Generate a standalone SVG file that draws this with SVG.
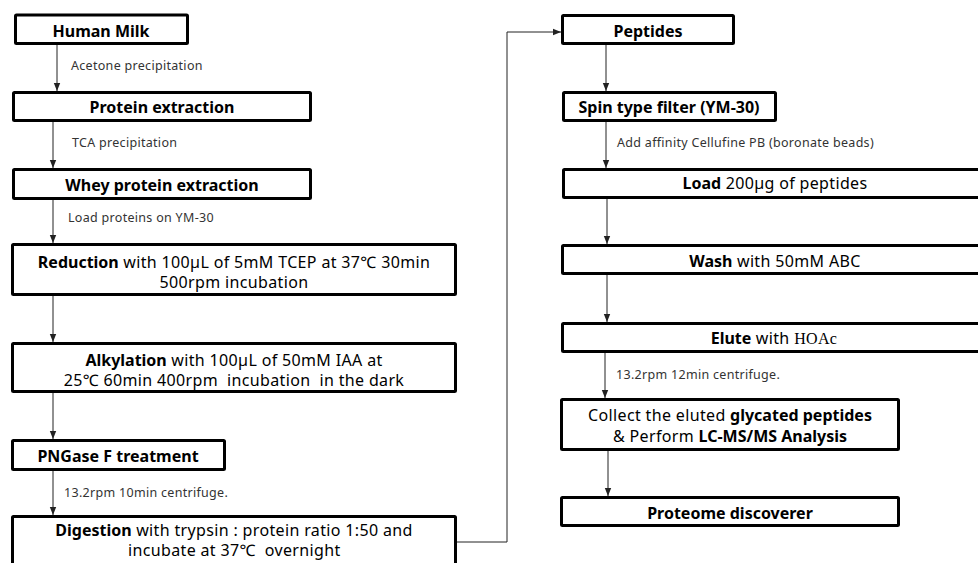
<svg xmlns="http://www.w3.org/2000/svg" width="978" height="563" viewBox="0 0 978 563">
<style>
.box{fill:#fff;stroke:#000;stroke-width:3}
.t{font-family:"Noto Sans","Noto Sans CJK KR",sans-serif;font-size:16px;fill:#000;text-anchor:middle;letter-spacing:0.35px}
.tl{font-family:"Noto Sans","Noto Sans CJK KR",sans-serif;font-size:16px;fill:#000;letter-spacing:0.35px}
.b{font-weight:700;letter-spacing:0}
.lbl{font-family:"Noto Sans",sans-serif;font-size:12.5px;fill:#333;letter-spacing:0.3px}
.c{fill:none;stroke:#222;stroke-width:1}
.serif{font-family:"Liberation Serif",serif}
</style>
<defs>
<marker id="ah" markerUnits="userSpaceOnUse" markerWidth="8" markerHeight="8" viewBox="0 0 8 8" refX="8" refY="4" orient="auto">
<path d="M0,0.8 L8,4 L0,7.2 Z" fill="#222"/>
</marker>
</defs>
<g id="connectors">
<line class="c" x1="57" y1="45" x2="57" y2="91" marker-end="url(#ah)"/>
<line class="c" x1="53" y1="122" x2="53" y2="168" marker-end="url(#ah)"/>
<line class="c" x1="53" y1="200" x2="53" y2="243" marker-end="url(#ah)"/>
<line class="c" x1="53" y1="296" x2="53" y2="342" marker-end="url(#ah)"/>
<line class="c" x1="53" y1="393" x2="53" y2="439" marker-end="url(#ah)"/>
<line class="c" x1="53" y1="471" x2="53" y2="515" marker-end="url(#ah)"/>
<polyline class="c" points="457,542 507,542 507,32 561,32" marker-end="url(#ah)"/>
<line class="c" x1="606" y1="45" x2="606" y2="91" marker-end="url(#ah)"/>
<line class="c" x1="606" y1="122" x2="606" y2="168" marker-end="url(#ah)"/>
<line class="c" x1="607" y1="199" x2="607" y2="244" marker-end="url(#ah)"/>
<line class="c" x1="607" y1="275" x2="607" y2="322" marker-end="url(#ah)"/>
<line class="c" x1="605" y1="353" x2="605" y2="398" marker-end="url(#ah)"/>
<line class="c" x1="608" y1="451" x2="608" y2="496" marker-end="url(#ah)"/>
<text class="lbl" x="71" y="70">Acetone precipitation</text>
<text class="lbl" x="72" y="147">TCA precipitation</text>
<text class="lbl" x="68" y="222">Load proteins on YM-30</text>
<text class="lbl" x="64" y="497">13.2rpm 10min centrifuge.</text>
<text class="lbl" x="617" y="147">Add affinity Cellufine PB (boronate beads)</text>
<text class="lbl" x="616" y="379">13.2rpm 12min centrifuge.</text>
</g>
<g id="human-milk">
<rect class="box" x="15.5" y="15" width="172" height="28.5" rx="1"/>
<text class="t b" x="101" y="37">Human Milk</text>
</g>
<g id="protein-extraction">
<rect class="box" x="13.5" y="92.5" width="297" height="28" rx="1"/>
<text class="t b" x="162" y="113">Protein extraction</text>
</g>
<g id="whey">
<rect class="box" x="13.5" y="169.5" width="297" height="29" rx="1"/>
<text class="t b" x="162" y="191">Whey protein extraction</text>
</g>
<g id="reduction">
<rect class="box" x="12.5" y="244.5" width="443" height="50" rx="1"/>
<text class="t" x="234" y="268"><tspan class="b">Reduction</tspan> with 100µL of 5mM TCEP at 37℃ 30min</text>
<text class="t" x="234" y="288">500rpm incubation</text>
</g>
<g id="alkylation">
<rect class="box" x="12.5" y="343.5" width="443" height="48" rx="1"/>
<text class="t" x="234" y="366"><tspan class="b">Alkylation</tspan> with 100µL of 50mM IAA at</text>
<text class="t" x="234" y="386" xml:space="preserve">25℃ 60min 400rpm  incubation  in the dark</text>
</g>
<g id="pngase">
<rect class="box" x="12.5" y="440.5" width="212" height="29" rx="1"/>
<text class="t b" x="118" y="462">PNGase F treatment</text>
</g>
<g id="digestion">
<rect class="box" x="12.5" y="516.5" width="443" height="60" rx="1"/>
<text class="t" x="234" y="536"><tspan class="b">Digestion</tspan> with trypsin : protein ratio 1:50 and</text>
<text class="tl" x="128" y="556" xml:space="preserve">incubate at 37℃  overnight</text>
</g>
<g id="peptides">
<rect class="box" x="562.5" y="15.5" width="171" height="28" rx="1"/>
<text class="t b" x="648" y="37">Peptides</text>
</g>
<g id="spin-filter">
<rect class="box" x="563.5" y="92.5" width="212" height="28" rx="1"/>
<text class="t b" x="669" y="113">Spin type filter (YM-30)</text>
</g>
<g id="load">
<rect class="box" x="563.5" y="169.5" width="430" height="28" rx="1"/>
<text class="t" x="775" y="189"><tspan class="b">Load</tspan> 200µg of peptides</text>
</g>
<g id="wash">
<rect class="box" x="562.5" y="245.5" width="431" height="28" rx="1"/>
<text class="t" x="775" y="267"><tspan class="b">Wash</tspan> with 50mM ABC</text>
</g>
<g id="elute">
<rect class="box" x="562.5" y="323.5" width="431" height="28" rx="1"/>
<text class="t" x="774" y="344"><tspan class="b">Elute</tspan> with <tspan class="serif">HOAc</tspan></text>
</g>
<g id="collect">
<rect class="box" x="561.5" y="399.5" width="337" height="50" rx="1"/>
<text class="t" x="730" y="421">Collect the eluted <tspan class="b">glycated peptides</tspan></text>
<text class="t" x="730" y="442">&amp; Perform <tspan class="b">LC-MS/MS Analysis</tspan></text>
</g>
<g id="proteome">
<rect class="box" x="561.5" y="497.5" width="337" height="28" rx="1"/>
<text class="t b" x="730" y="519">Proteome discoverer</text>
</g>
</svg>
